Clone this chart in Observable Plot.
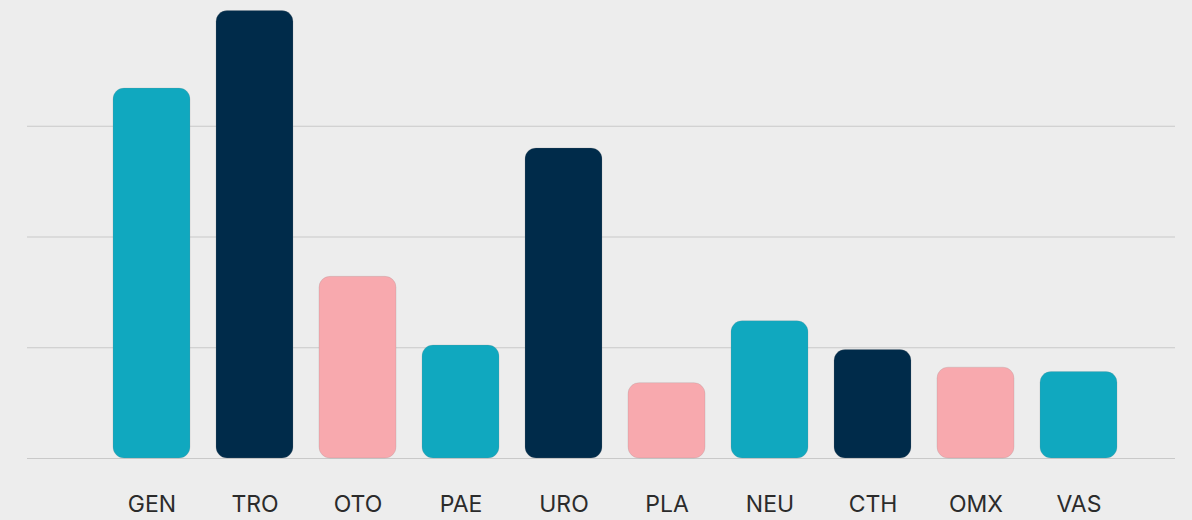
<!DOCTYPE html>
<html>
<head>
<meta charset="utf-8">
<script src="https://cdn.jsdelivr.net/npm/d3@7"></script>
<script src="https://cdn.jsdelivr.net/npm/@observablehq/plot@0.6"></script>
<style>
  html, body { margin: 0; padding: 0; background: #ededed; }
  #chart svg { display: block; }
</style>
</head>
<body>
<div id="chart"></div>
<script>
const categories = ["GEN", "TRO", "OTO", "PAE", "URO", "PLA", "NEU", "CTH", "OMX", "VAS"];
const values = [167, 202, 82, 51, 140, 34, 62, 49, 41, 39];
const groups = ["g1", "g2", "g3", "g1", "g2", "g3", "g1", "g2", "g3", "g1"];
const groupColors = ["#10a8bf", "#002b4a", "#f8a9ae"];
const yTicks = [0, 50, 100, 150];

const data = categories.map((c, i) => ({category: c, value: values[i], group: groups[i]}));

const chart = Plot.plot({
  width: 1192,
  height: 520,
  marginTop: 15,
  marginBottom: 62,
  marginLeft: 27,
  marginRight: 17,
  style: {background: "#ededed", fontFamily: "Inter, 'DejaVu Sans', sans-serif"},
  x: {domain: categories, paddingInner: 0.255, paddingOuter: 0.6825, align: 0.596, label: null},
  y: {domain: [0, 200], label: null},
  color: {type: "ordinal", domain: ["g1", "g2", "g3"], range: groupColors},
  marks: [
    Plot.ruleY(yTicks, {stroke: "#c9c9c9", strokeWidth: 1}),
    Plot.barY(data, {x: "category", y: "value", fill: "group", rx: 11, stroke: "#888", strokeOpacity: 0.2, strokeWidth: 1}),
    Plot.axisX({tickSize: 0, tickPadding: 37, fontSize: 23, fill: "#2b2b2b", label: null, style: "letter-spacing: 1.5px"}),
    Plot.axisY({ticks: [], label: null})
  ]
});
document.getElementById("chart").appendChild(chart);
</script>
</body>
</html>
